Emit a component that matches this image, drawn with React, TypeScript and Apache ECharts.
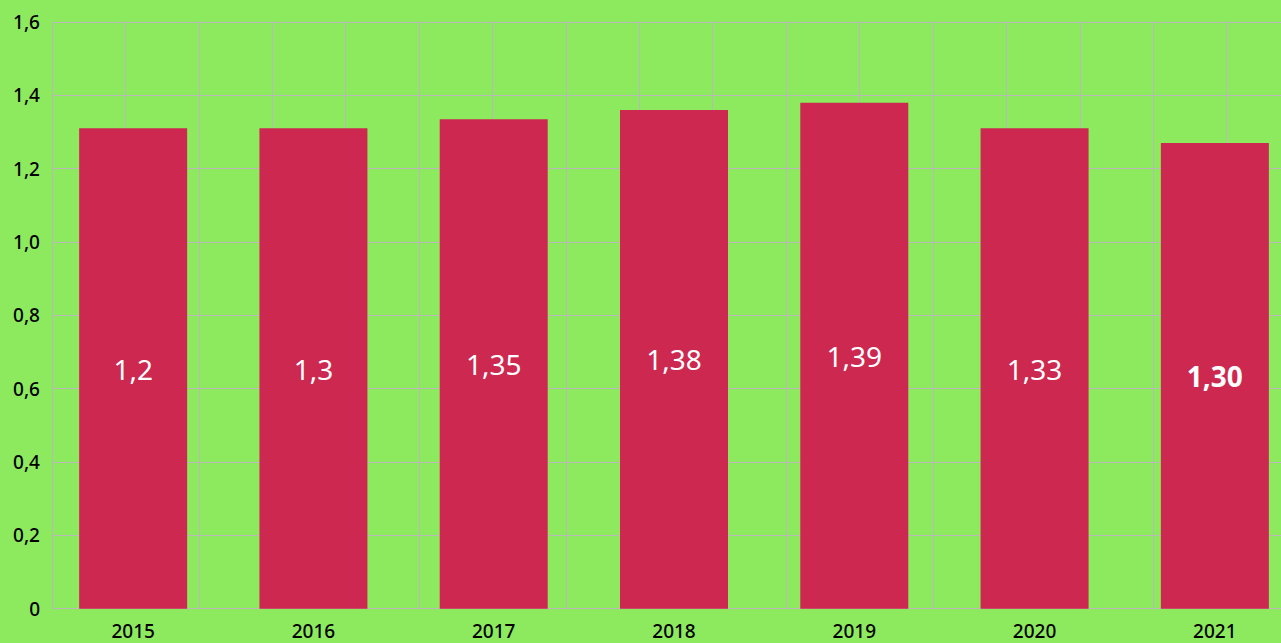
import React, { useEffect, useRef } from "react";
import * as echarts from "echarts";

const years = ["2015", "2016", "2017", "2018", "2019", "2020", "2021"];
const barValues = [1.31, 1.31, 1.335, 1.36, 1.38, 1.31, 1.27];
const barLabels = ["1,2", "1,3", "1,35", "1,38", "1,39", "1,33", "1,30"];
const boldLabelIndex = 6;
const yTicks = { min: 0, max: 1.6, interval: 0.2 };

export default function App() {
  const ref = useRef<HTMLDivElement>(null);
  useEffect(() => {
    document.body.style.margin = "0";
    const chart = echarts.init(ref.current!, undefined, { renderer: "svg" });
    const gridLine = { show: true, lineStyle: { color: "#b9b9b9", width: 1 } };
    chart.setOption({
      animation: false,
      backgroundColor: "#8dea5f",
      grid: [
        { left: 52, top: 22, width: 1248, bottom: 34.3 },
        { left: 43, top: 22, width: 1262, bottom: 34.3 },
      ],
      xAxis: [
        {
          type: "value",
          gridIndex: 0,
          min: 0,
          max: 17,
          interval: 1,
          axisLabel: { show: false },
          axisLine: { show: false },
          axisTick: { show: false },
          splitLine: gridLine,
        },
        {
          type: "category",
          gridIndex: 1,
          data: years,
          axisLine: { show: false },
          axisTick: { show: false },
          splitLine: { show: false },
          axisLabel: {
            color: "#000",
            fontSize: 19,
            fontFamily: "Noto Sans",
            fontWeight: 500,
            margin: 13,
          },
        },
      ],
      yAxis: [
        {
          type: "value",
          gridIndex: 0,
          min: yTicks.min,
          max: yTicks.max,
          interval: yTicks.interval,
          axisLine: { show: false },
          axisTick: { show: false },
          splitLine: gridLine,
          axisLabel: {
            color: "#000",
            fontSize: 19,
            fontFamily: "Noto Sans",
            fontWeight: 500,
            margin: 12,
            formatter: (v: number) => (v === 0 ? "0" : v.toFixed(1).replace(".", ",")),
          },
        },
        {
          type: "value",
          gridIndex: 1,
          min: yTicks.min,
          max: yTicks.max,
          interval: yTicks.interval,
          show: false,
          splitLine: { show: false },
        },
      ],
      series: [
        {
          type: "bar",
          xAxisIndex: 1,
          yAxisIndex: 1,
          barWidth: 108,
          itemStyle: { color: "#cc2850" },
          data: barValues.map((v, i) => ({
            value: v,
            label: { fontWeight: i === boldLabelIndex ? "bold" : "normal" },
          })),
          label: {
            show: true,
            position: "inside",
            color: "#ffffff",
            fontSize: 28,
            fontFamily: "Noto Sans",
            formatter: (p: any) => barLabels[p.dataIndex],
          },
        },
      ],
    });
    return () => chart.dispose();
  }, []);
  return (
    <div style={{ width: 1281, height: 643, overflow: "hidden" }}>
      <div ref={ref} style={{ width: 1320, height: 643 }} />
    </div>
  );
}
